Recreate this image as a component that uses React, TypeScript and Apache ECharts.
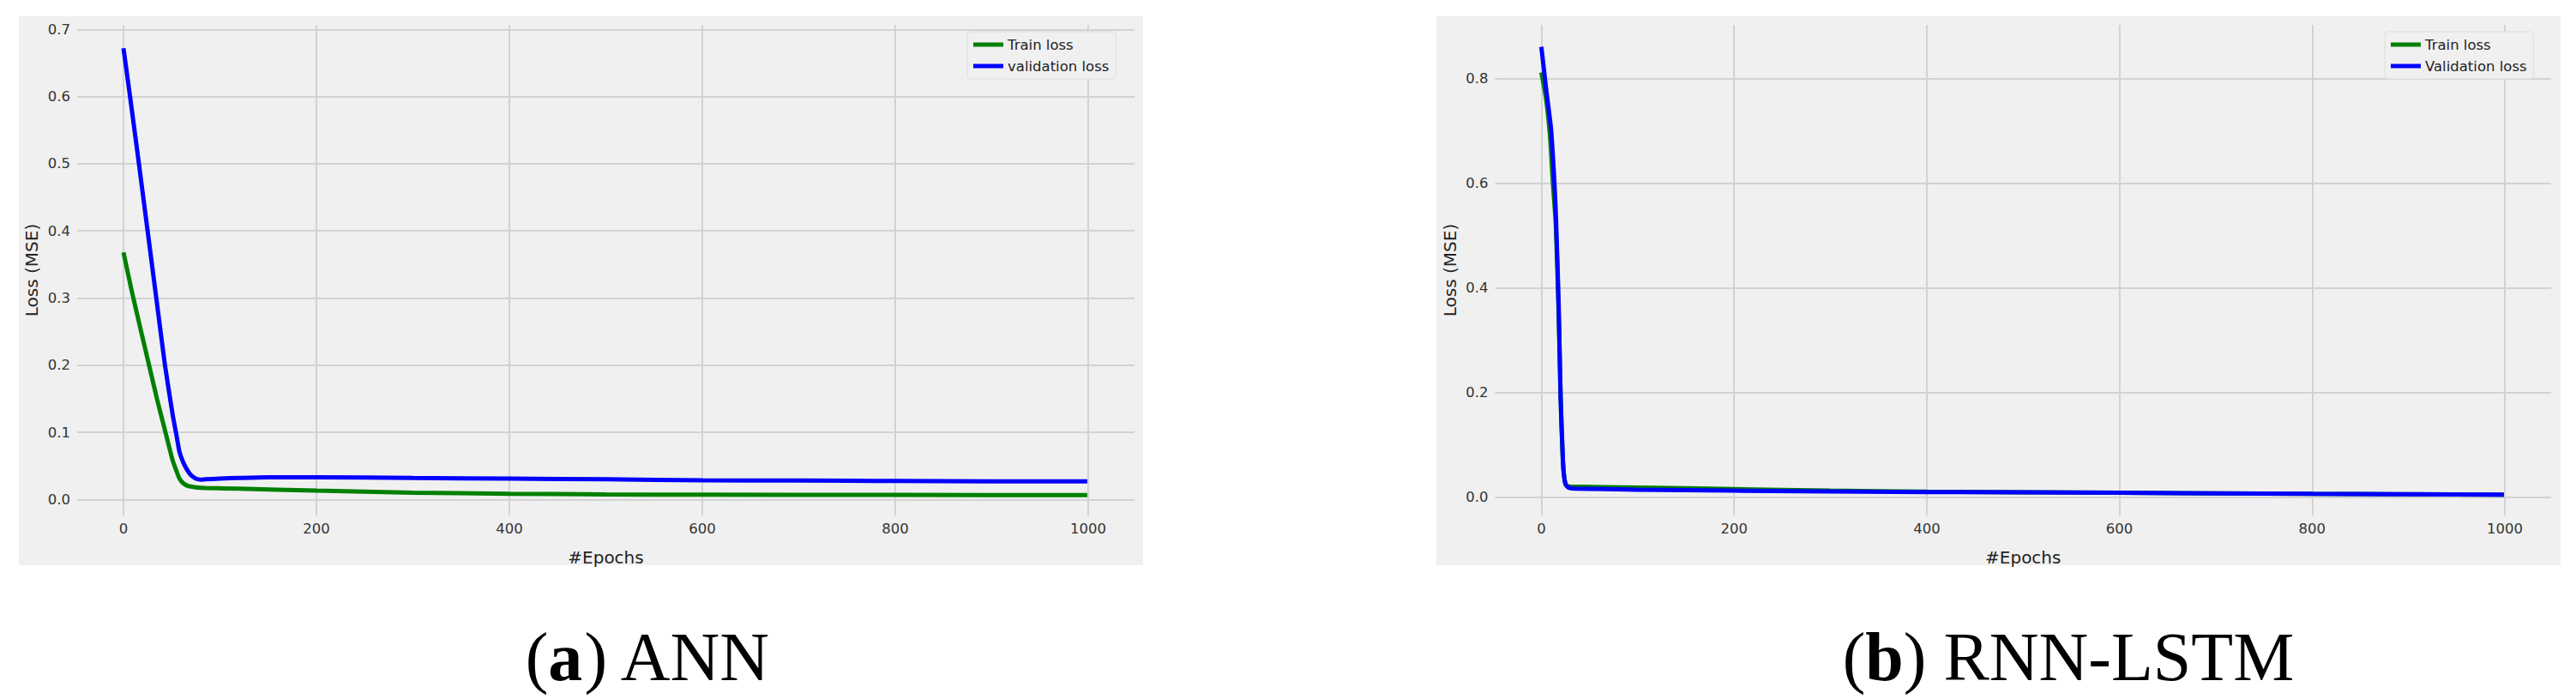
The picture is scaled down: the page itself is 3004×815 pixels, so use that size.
import React, { useEffect, useRef } from "react";
import * as echarts from "echarts";

// ---- data (epoch, loss) ----
const annTrain: [number, number][] = [
  [0, 0.368], [8, 0.314], [17, 0.258], [26, 0.203], [35, 0.148], [43, 0.103],
  [51, 0.058], [55, 0.042], [58, 0.031], [62, 0.024], [67, 0.02], [75, 0.018],
  [85, 0.017], [120, 0.016], [200, 0.013], [300, 0.01], [400, 0.0085],
  [500, 0.0075], [600, 0.007], [800, 0.0066], [999, 0.0065],
];
const annVal: [number, number][] = [
  [0, 0.672], [7, 0.598], [16, 0.5], [25, 0.4], [34, 0.3], [43, 0.2],
  [51, 0.126], [55, 0.095], [58, 0.071], [62, 0.055], [66, 0.044], [70, 0.036],
  [75, 0.031], [80, 0.0295], [85, 0.03], [100, 0.031], [120, 0.032],
  [150, 0.033], [200, 0.033], [300, 0.032], [400, 0.031], [500, 0.03],
  [600, 0.0285], [700, 0.028], [800, 0.0275], [900, 0.027], [999, 0.027],
];
const rnnTrain: [number, number][] = [
  [0, 0.812], [5, 0.76], [9, 0.69], [12, 0.6], [15, 0.52], [18, 0.35],
  [20, 0.19], [22, 0.08], [24, 0.035], [26, 0.022], [30, 0.02], [100, 0.018],
  [200, 0.015], [300, 0.012], [400, 0.01], [600, 0.008], [800, 0.006],
  [999, 0.0045],
];
const rnnVal: [number, number][] = [
  [0, 0.861], [5, 0.78], [10, 0.705], [13, 0.62], [15, 0.544], [18, 0.365],
  [20, 0.19], [22, 0.09], [23, 0.05], [25, 0.025], [28, 0.018], [35, 0.016],
  [100, 0.014], [200, 0.012], [400, 0.0095], [600, 0.008], [800, 0.006],
  [999, 0.0045],
];

const xTicks = [0, 200, 400, 600, 800, 1000];
const annYTicks = [0, 0.1, 0.2, 0.3, 0.4, 0.5, 0.6, 0.7];
const rnnYTicks = [0, 0.2, 0.4, 0.6, 0.8];

const annLegend = ["Train loss", "validation loss"];
const rnnLegend = ["Train loss", "Validation loss"];
const xTitle = "#Epochs";
const yTitle = "Loss (MSE)";

const FONT = "DejaVu Sans";
const BG = "#f0f0f0";
const GRID = "#d2d2d2";
const GREEN = "#008000";
const BLUE = "#0000ff";

function xAxisFor(gridIndex: number) {
  return {
    type: "value",
    gridIndex,
    min: -48,
    max: 1048,
    name: xTitle,
    nameLocation: "middle",
    nameGap: 39,
    nameTextStyle: { fontFamily: FONT, fontSize: 20, color: "#222" },
    axisLine: { show: false },
    axisTick: { show: false, customValues: xTicks },
    axisLabel: {
      customValues: xTicks,
      fontFamily: FONT,
      fontSize: 16.5,
      color: "#333",
      margin: 7,
      formatter: (v: number) => String(v),
    },
    splitLine: { show: true, lineStyle: { color: GRID, width: 2 } },
  };
}

function yAxisFor(gridIndex: number, min: number, max: number, ticks: number[]) {
  return {
    type: "value",
    gridIndex,
    min,
    max,
    name: yTitle,
    nameLocation: "middle",
    nameRotate: 90,
    nameGap: 43,
    nameTextStyle: { fontFamily: FONT, fontSize: 20, color: "#222" },
    axisLine: { show: false },
    axisTick: { show: false, customValues: ticks },
    axisLabel: {
      customValues: ticks,
      fontFamily: FONT,
      fontSize: 16.5,
      color: "#333",
      margin: 8,
      formatter: (v: number) => v.toFixed(1),
    },
    splitLine: { show: true, lineStyle: { color: GRID, width: 2 } },
  };
}

function legendFor(left: number, data: string[]) {
  return {
    orient: "vertical",
    left,
    top: 37,
    data,
    icon: "rect",
    itemWidth: 35,
    itemHeight: 5,
    itemGap: 5,
    itemTextGap: 14,
    padding: [5, 8, 5, 7],
    backgroundColor: BG,
    borderColor: "#dcdcdc",
    borderWidth: 1,
    borderRadius: 4,
    textStyle: { fontFamily: FONT, fontSize: 16.5, color: "#222", lineHeight: 20 },
  };
}

function lineSeries(name: string, data: [number, number][], idx: number, color: string) {
  return {
    type: "line",
    name,
    data,
    xAxisIndex: idx,
    yAxisIndex: idx,
    showSymbol: false,
    symbol: "none",
    smooth: 0.2,
    color,
    lineStyle: { color, width: 5 },
    emphasis: { disabled: true },
  };
}

function caption(x: number, tag: string, rest: string) {
  return {
    type: "text",
    x,
    y: 766,
    style: {
      text: `{n|(}{b|${tag}}{n|) ${rest}}`,
      textAlign: "center",
      textVerticalAlign: "middle",
      rich: {
        n: { fontFamily: "Liberation Serif", fontSize: 80, fill: "#000" },
        b: { fontFamily: "Liberation Serif", fontSize: 80, fontWeight: "bold", fill: "#000" },
      },
    },
  };
}

export default function App() {
  const ref = useRef<HTMLDivElement>(null);
  useEffect(() => {
    document.body.style.margin = "0";
    const chart = echarts.init(ref.current!, undefined, { renderer: "svg" });
    chart.setOption({
      animation: false,
      backgroundColor: "#ffffff",
      grid: [
        { left: 90, top: 29, width: 1233, height: 572 },
        { left: 1743.5, top: 29, width: 1231.5, height: 572 },
      ],
      xAxis: [xAxisFor(0), xAxisFor(1)],
      yAxis: [
        yAxisFor(0, -0.0239, 0.7068, annYTicks),
        yAxisFor(1, -0.0354, 0.903, rnnYTicks),
      ],
      legend: [legendFor(1128, annLegend), legendFor(2781, rnnLegend)],
      series: [
        lineSeries(annLegend[0], annTrain, 0, GREEN),
        lineSeries(annLegend[1], annVal, 0, BLUE),
        lineSeries(rnnLegend[0], rnnTrain, 1, GREEN),
        lineSeries(rnnLegend[1], rnnVal, 1, BLUE),
      ],
      graphic: [
        { type: "rect", z: -10, shape: { x: 22, y: 19, width: 1311, height: 640 }, style: { fill: BG } },
        { type: "rect", z: -10, shape: { x: 1675, y: 19, width: 1311, height: 640 }, style: { fill: BG } },
        caption(756, "a", "ANN"),
        caption(2412, "b", "RNN-LSTM"),
      ],
    });
    return () => chart.dispose();
  }, []);
  return <div ref={ref} style={{ width: 3004, height: 815 }} />;
}
